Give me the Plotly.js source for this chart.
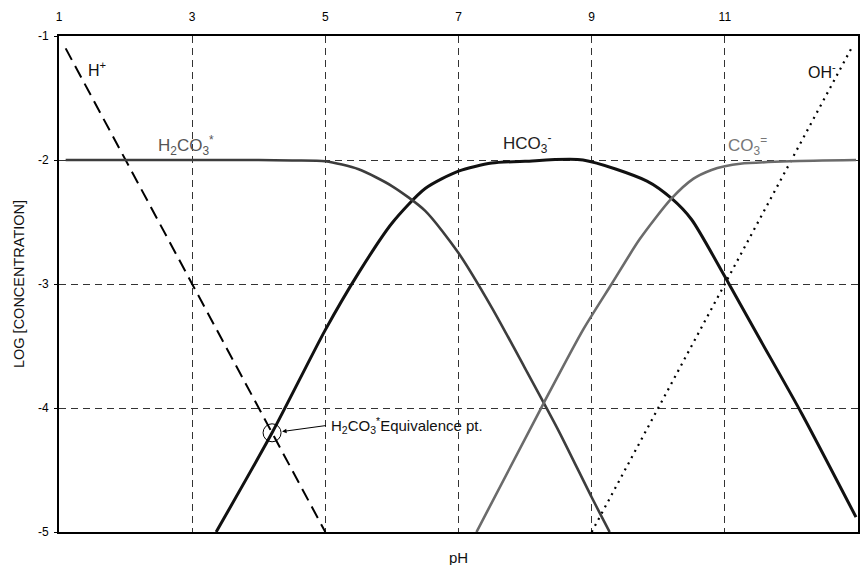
<!DOCTYPE html>
<html>
<head>
<meta charset="utf-8">
<script src="https://cdn.plot.ly/plotly-3.0.1.min.js"></script>
<style>
  html, body { margin: 0; padding: 0; background: #fff; }
  #chart { width: 860px; height: 565px; }
</style>
</head>
<body>
<div id="chart"></div>
<script>
// Carbonate system, C_T = 10^-2 M: log concentration of each species vs pH

// H2CO3* (dissolved CO2 + carbonic acid)
const phH2CO3  = [1.1, 2, 3, 4, 4.5, 5, 5.5, 6, 6.5, 7, 7.5, 8, 8.5, 9, 9.27];
const logH2CO3 = [-2, -2, -2, -2, -2.004, -2.01, -2.075, -2.21, -2.41, -2.75, -3.19, -3.68, -4.18, -4.72, -5.0];

// HCO3- (bicarbonate)
const phHCO3  = [3.36, 4.2, 5.0, 5.5, 6.0, 6.5, 7.0, 7.5, 8.0, 8.87, 9.83, 10.2, 10.5, 11.0, 11.5, 12.15, 12.97];
const logHCO3 = [-5.0, -4.2, -3.37, -2.91, -2.51, -2.23, -2.09, -2.025, -2.01, -2.0, -2.17, -2.31, -2.48, -2.94, -3.42, -4.04, -4.88];

// CO3= (carbonate)
const phCO3  = [7.27, 8.28, 8.87, 9.3, 9.72, 10.2, 10.53, 10.8, 11.0, 11.23, 11.98, 12.97];
const logCO3 = [-5.0, -3.96, -3.37, -3.0, -2.64, -2.31, -2.15, -2.08, -2.05, -2.03, -2.01, -2.0];

// H+ and OH- lines
const phH  = [1.1, 5];
const logH = [-1.1, -5];
const phOH  = [9, 12.9];
const logOH = [-5, -1.1];

// H2CO3* equivalence point (H+ = HCO3-)
const phEq  = [4.2];
const logEq = [-4.2];

// Axis ticks
const xTicks = [1, 3, 5, 7, 9, 11, 13];
const yTicks = [-1, -2, -3, -4, -5];

const FONT = "Arial, 'Liberation Sans', sans-serif";

const traces = [
  { x: phH, y: logH, mode: 'lines', name: 'H+',
    line: { color: '#000', width: 2, dash: '13px,7px' } },
  { x: phOH, y: logOH, mode: 'lines', name: 'OH-',
    line: { color: '#000', width: 2.2, dash: '2px,5px' } },
  { x: phHCO3, y: logHCO3, mode: 'lines', name: 'HCO3-',
    line: { color: '#111', width: 3, shape: 'spline', smoothing: 0.7 } },
  { x: phH2CO3, y: logH2CO3, mode: 'lines', name: 'H2CO3*',
    line: { color: '#3d3d3d', width: 2.6, shape: 'spline', smoothing: 0.7 } },
  { x: phCO3, y: logCO3, mode: 'lines', name: 'CO3=',
    line: { color: '#6b6b6b', width: 2.6, shape: 'spline', smoothing: 0.7 } },
  { x: phEq, y: logEq, mode: 'markers', name: 'Equivalence pt.',
    marker: { symbol: 'circle-open', size: 18, color: '#000', line: { width: 1, color: '#000' } } }
];

function label(text, x, y, color, size) {
  return { text: text, x: x, y: y, xref: 'x', yref: 'y', showarrow: false,
           font: { family: FONT, size: size || 17, color: color },
           xanchor: 'center', yanchor: 'middle' };
}

const annotations = [
  label('H<sup>+</sup>', 1.57, -1.27, '#111', 16),
  label('H<sub>2</sub>CO<sub>3</sub><sup>*</sup>', 2.9, -1.88, '#555'),
  label('HCO<sub>3</sub><sup>-</sup>', 8.03, -1.87, '#222'),
  label('CO<sub>3</sub><sup>=</sup>', 11.34, -1.88, '#777'),
  label('OH<sup>-</sup>', 12.46, -1.28, '#111', 16),
  { text: 'H<sub>2</sub>CO<sub>3</sub><sup>*</sup>Equivalence pt.', x: 5.06, y: -4.14,
    xref: 'x', yref: 'y', showarrow: false, xanchor: 'left', yanchor: 'middle',
    font: { family: FONT, size: 15, color: '#111' } },
  { text: '', x: 4.35, y: -4.19, ax: 5.03, ay: -4.14, xref: 'x', yref: 'y',
    axref: 'x', ayref: 'y', showarrow: true, arrowhead: 2, arrowsize: 0.9,
    arrowwidth: 1, arrowcolor: '#000' },
  { text: 'pH', x: 0.5, y: 0, xref: 'paper', yref: 'paper', showarrow: false,
    xanchor: 'center', yanchor: 'top', yshift: -15,
    font: { family: FONT, size: 15, color: '#111' } }
];

const layout = {
  width: 860, height: 565,
  margin: { l: 59, r: 2, t: 36, b: 33 },
  paper_bgcolor: '#fff', plot_bgcolor: '#fff',
  showlegend: false,
  font: { family: FONT, size: 12, color: '#000' },
  xaxis: {
    range: [1, 13], side: 'top', tickvals: xTicks, ticktext: xTicks.map(String),
    showgrid: true, gridcolor: '#333', gridwidth: 1, griddash: '7px,5px',
    showline: true, mirror: true, linecolor: '#000', linewidth: 2,
    zeroline: false, ticks: '', ticklabelstandoff: 8,
    tickfont: { family: FONT, size: 12, color: '#000' }
  },
  yaxis: {
    range: [-5, -1], tickvals: yTicks, ticktext: yTicks.map(String),
    showgrid: true, gridcolor: '#333', gridwidth: 1, griddash: '7px,5px',
    showline: true, mirror: true, linecolor: '#000', linewidth: 2,
    zeroline: false, ticks: 'outside', ticklen: 3, tickcolor: '#000', ticklabelstandoff: 3,
    tickfont: { family: FONT, size: 12, color: '#000' },
    title: { text: 'LOG [CONCENTRATION]', standoff: 10,
             font: { family: FONT, size: 14.5, color: '#111' } }
  },
  annotations: annotations
};

Plotly.newPlot('chart', traces, layout, { staticPlot: true, displayModeBar: false });
</script>
</body>
</html>
